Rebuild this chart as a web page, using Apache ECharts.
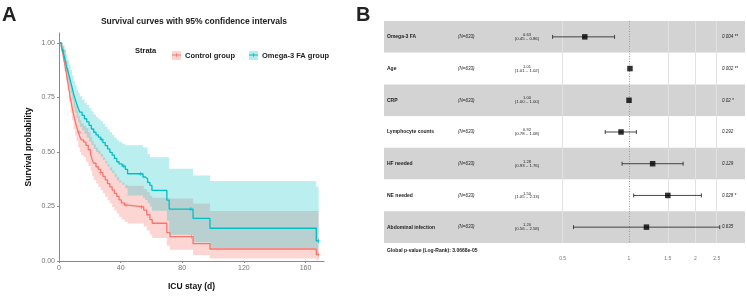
<!DOCTYPE html>
<html>
<head>
<meta charset="utf-8">
<script src="https://cdn.jsdelivr.net/npm/echarts@6/dist/echarts.min.js"></script>
<style>
  html, body { margin: 0; padding: 0; background: #fff; }
  #chart { width: 747px; height: 296px; }
</style>
</head>
<body>
<div id="chart"></div>
<script>
// ---- A: Kaplan-Meier curves ----
const ctrlTime  = [0, 1.5, 2.5, 3.5, 4.5, 5.5, 6.5, 7.5, 8.5, 9.5, 10.5, 11.5, 12.5, 13.5, 14.5, 16, 17.5, 19, 20.5, 21.5, 22.5, 24, 25.5, 27, 28.5, 30, 31.5, 33, 34.5, 36, 37.5, 39, 40.5, 42.5, 44.5, 55, 57, 59, 60.5, 70, 72, 87, 98, 167, 168.5];
const ctrlSurv  = [1, 0.985, 0.95, 0.91, 0.87, 0.83, 0.785, 0.74, 0.705, 0.67, 0.64, 0.615, 0.59, 0.57, 0.555, 0.545, 0.53, 0.51, 0.49, 0.465, 0.448, 0.432, 0.42, 0.405, 0.388, 0.372, 0.355, 0.34, 0.325, 0.31, 0.296, 0.28, 0.266, 0.256, 0.248, 0.233, 0.212, 0.19, 0.173, 0.13, 0.112, 0.08, 0.055, 0.029, 0.029];
const ctrlLower = [1, 0.96, 0.915, 0.87, 0.825, 0.78, 0.73, 0.68, 0.645, 0.605, 0.575, 0.55, 0.52, 0.5, 0.485, 0.475, 0.455, 0.435, 0.415, 0.39, 0.37, 0.355, 0.34, 0.325, 0.31, 0.295, 0.278, 0.263, 0.248, 0.232, 0.218, 0.203, 0.19, 0.18, 0.172, 0.158, 0.14, 0.12, 0.105, 0.07, 0.052, 0.028, 0.012, 0.003, 0.003];
const ctrlUpper = [1, 1, 0.985, 0.955, 0.92, 0.885, 0.845, 0.805, 0.77, 0.74, 0.71, 0.69, 0.665, 0.645, 0.63, 0.62, 0.61, 0.59, 0.57, 0.55, 0.535, 0.52, 0.505, 0.49, 0.475, 0.46, 0.445, 0.43, 0.415, 0.4, 0.385, 0.37, 0.36, 0.35, 0.345, 0.33, 0.315, 0.3, 0.29, 0.29, 0.286, 0.264, 0.229, 0.229, 0.229];

const omegaTime  = [0, 1.5, 2.5, 3.5, 4.5, 5.5, 6.5, 7.5, 8.5, 9.5, 10.5, 11.5, 12.5, 13.5, 15, 16.5, 18, 19.5, 21, 22.5, 24, 25.5, 27, 28.5, 30, 31.5, 33, 34.5, 36, 37.5, 39, 41, 43, 44.5, 54.5, 56, 57.5, 59, 60.3, 70, 71.5, 87, 98, 167, 168.5];
const omegaSurv  = [1, 0.985, 0.962, 0.935, 0.905, 0.875, 0.85, 0.822, 0.795, 0.765, 0.742, 0.72, 0.7, 0.682, 0.667, 0.652, 0.638, 0.622, 0.605, 0.59, 0.578, 0.568, 0.557, 0.543, 0.529, 0.514, 0.498, 0.485, 0.47, 0.455, 0.445, 0.435, 0.42, 0.4, 0.385, 0.377, 0.36, 0.347, 0.324, 0.279, 0.238, 0.195, 0.15, 0.092, 0.092];
const omegaLower = [1, 0.965, 0.935, 0.9, 0.865, 0.83, 0.8, 0.77, 0.74, 0.705, 0.68, 0.655, 0.635, 0.615, 0.598, 0.582, 0.565, 0.548, 0.53, 0.513, 0.5, 0.49, 0.478, 0.463, 0.448, 0.432, 0.415, 0.402, 0.386, 0.37, 0.36, 0.35, 0.333, 0.3, 0.29, 0.28, 0.265, 0.25, 0.23, 0.185, 0.12, 0.086, 0.06, 0.025, 0.025];
const omegaUpper = [1, 1, 0.99, 0.97, 0.945, 0.92, 0.9, 0.875, 0.85, 0.825, 0.805, 0.785, 0.77, 0.755, 0.74, 0.725, 0.715, 0.7, 0.685, 0.672, 0.66, 0.65, 0.64, 0.628, 0.615, 0.603, 0.59, 0.578, 0.565, 0.553, 0.545, 0.537, 0.53, 0.53, 0.52, 0.52, 0.49, 0.476, 0.476, 0.476, 0.423, 0.392, 0.367, 0.34, 0.34];

const ctrlCensor  = [13, 27, 43.5, 53.5, 86, 168.5];
const omegaCensor = [3, 27.5, 42, 53, 85.5, 168.5];

const kmXTicks = [0, 40, 80, 120, 160];
const kmYTicks = [0, 0.25, 0.5, 0.75, 1];

// ---- B: forest plot ----
const forestVars = ['Omega-3 FA', 'Age', 'CRP', 'Lymphocyte counts', 'HF needed', 'NE needed', 'Abdominal infection'];
const forestN    = ['(N=633)', '(N=633)', '(N=633)', '(N=633)', '(N=633)', '(N=633)', '(N=633)'];
const forestHR   = [0.63, 1.01, 1.00, 0.92, 1.28, 1.50, 1.20];
const forestLow  = [0.45, 1.01, 1.00, 0.78, 0.93, 1.05, 0.56];
const forestHigh = [0.86, 1.02, 1.00, 1.08, 1.76, 2.13, 2.58];
const forestP    = ['0.004 **', '0.002 **', '0.02 *', '0.292', '0.129', '0.028 *', '0.635'];
const forestTicks = [0.5, 1, 1.5, 2, 2.5];
const globalP = 'Global p-value (Log-Rank): 3.0668e-05';

const RED = '#F8766D', TEAL = '#00BFC4';
const FONT = '"Liberation Sans", Arial, sans-serif';

const survAt = (time, surv, t) => {
  let s = surv[0];
  for (let i = 0; i < time.length; i++) if (time[i] <= t) s = surv[i];
  return s;
};

// step-shaped confidence ribbon
const ribbon = (name, time, lower, upper, color) => ({
  type: 'custom', name, xAxisIndex: 0, yAxisIndex: 0, silent: true, z: 1,
  data: [[time[0], upper[0]]],
  renderItem: (params, api) => {
    const pts = [];
    const n = time.length;
    for (let i = 0; i < n; i++) {
      const t1 = time[Math.min(i + 1, n - 1)];
      pts.push(api.coord([time[i], upper[i]]), api.coord([t1, upper[i]]));
    }
    for (let i = n - 1; i >= 0; i--) {
      const t1 = time[Math.min(i + 1, n - 1)];
      pts.push(api.coord([t1, lower[i]]), api.coord([time[i], lower[i]]));
    }
    return { type: 'polygon', shape: { points: pts }, style: { fill: color } };
  }
});

const plusPath = 'path://M0,2h5v1h-5z M2,0h1v5h-1z';

const kmLine = (name, time, surv, color) => ({
  type: 'line', name, step: 'end', xAxisIndex: 0, yAxisIndex: 0, z: 3,
  showSymbol: false, symbol: 'none',
  lineStyle: { color, width: 1.3 },
  itemStyle: { color },
  data: time.map((t, i) => [t, surv[i]])
});

const censor = (name, times, time, surv, color) => ({
  type: 'scatter', name, xAxisIndex: 0, yAxisIndex: 0, z: 4,
  symbol: plusPath, symbolSize: 4,
  itemStyle: { color },
  data: times.map(t => [t, survAt(time, surv, t)])
});

const axisGrey = '#8a8a8a';

const option = {
  animation: false,
  textStyle: { fontFamily: FONT },
  grid: [
    { left: 59, top: 33, width: 265, height: 230 },
    { left: 384, top: 21, width: 361, height: 222 }
  ],
  legend: [
    {
      left: 167, top: 46, itemWidth: 9, itemHeight: 9, itemGap: 14, selectedMode: false,
      textStyle: { fontSize: 7.5, fontWeight: 'bold', color: '#222', fontFamily: FONT, padding: [0, 0, 0, -1] },
      data: [
        { name: 'Control group', icon: 'rect', itemStyle: { color: 'rgba(248,118,109,0.3)' } },
        { name: 'Omega-3 FA group', icon: 'rect', itemStyle: { color: 'rgba(0,191,196,0.3)' } }
      ]
    },
    {
      left: 167, top: 46, itemWidth: 9, itemHeight: 4, itemGap: 14, selectedMode: false,
      textStyle: { fontSize: 7.5, fontWeight: 'bold', color: 'rgba(0,0,0,0)', fontFamily: FONT, padding: [0, 0, 0, -1] },
      data: [
        { name: 'Control group', icon: 'path://M0,1.5h10v1h-10z M4.5,0h1v4h-1z', itemStyle: { color: RED } },
        { name: 'Omega-3 FA group', icon: 'path://M0,1.5h10v1h-10z M4.5,0h1v4h-1z', itemStyle: { color: TEAL } }
      ]
    }
  ],
  xAxis: [
    {
      type: 'value', gridIndex: 0, min: 0, max: 172,
      name: 'ICU stay (d)', nameLocation: 'middle', nameGap: 21,
      nameTextStyle: { fontSize: 8.5, fontWeight: 'bold', color: '#111', fontFamily: FONT },
      axisLine: { lineStyle: { color: axisGrey, width: 1 } },
      axisTick: { length: 2, lineStyle: { color: axisGrey }, customValues: kmXTicks },
      axisLabel: { fontSize: 7, color: '#777', margin: 4, customValues: kmXTicks },
      splitLine: { show: false }
    },
    {
      type: 'log', gridIndex: 1, logBase: 10, min: 0.0773, max: 3.36,
      axisLine: { show: false }, axisTick: { show: false },
      axisLabel: { fontSize: 5, color: '#777', margin: 13, customValues: forestTicks },
      splitLine: { show: false }
    }
  ],
  yAxis: [
    {
      type: 'value', gridIndex: 0, min: 0, max: 1.045,
      name: 'Survival probability', nameLocation: 'middle', nameGap: 26,
      nameTextStyle: { fontSize: 8.5, fontWeight: 'bold', color: '#111', fontFamily: FONT },
      axisLine: { show: true, lineStyle: { color: axisGrey, width: 1 } },
      axisTick: { show: true, length: 2, lineStyle: { color: axisGrey }, customValues: kmYTicks },
      axisLabel: { fontSize: 7, color: '#777', margin: 4, customValues: kmYTicks, formatter: v => v.toFixed(2) },
      splitLine: { show: false }
    },
    {
      type: 'category', gridIndex: 1, inverse: true, data: forestVars,
      axisLine: { show: false }, axisTick: { show: false }, axisLabel: { show: false },
      splitArea: { show: true, areaStyle: { color: ['#d3d3d3', '#ffffff'] } },
      splitLine: { show: false }
    }
  ],
  series: [
    ribbon('ctrlBand', ctrlTime, ctrlLower, ctrlUpper, 'rgba(248,118,109,0.3)'),
    ribbon('omegaBand', omegaTime, omegaLower, omegaUpper, 'rgba(0,191,196,0.27)'),
    kmLine('Control group', ctrlTime, ctrlSurv, RED),
    kmLine('Omega-3 FA group', omegaTime, omegaSurv, TEAL),
    censor('Control group', ctrlCensor, ctrlTime, ctrlSurv, RED),
    censor('Omega-3 FA group', omegaCensor, omegaTime, omegaSurv, TEAL),
    {
      type: 'custom', name: 'ci', xAxisIndex: 1, yAxisIndex: 1, silent: true, z: 3,
      encode: { x: [0, 1], y: 2 },
      data: forestVars.map((v, i) => [forestLow[i], forestHigh[i], i]),
      renderItem: (params, api) => {
        const a = api.coord([api.value(0), api.value(2)]);
        const b = api.coord([api.value(1), api.value(2)]);
        const st = { stroke: '#333', lineWidth: 0.9 };
        if (b[0] - a[0] < 1) return { type: 'group', children: [] };
        return {
          type: 'group', children: [
            { type: 'line', shape: { x1: a[0], y1: a[1], x2: b[0], y2: b[1] }, style: st },
            { type: 'line', shape: { x1: a[0], y1: a[1] - 2, x2: a[0], y2: a[1] + 2 }, style: st },
            { type: 'line', shape: { x1: b[0], y1: b[1] - 2, x2: b[0], y2: b[1] + 2 }, style: st }
          ]
        };
      }
    },
    {
      type: 'scatter', name: 'hr', xAxisIndex: 1, yAxisIndex: 1, z: 4, silent: true,
      symbol: 'rect', symbolSize: 5.5, itemStyle: { color: '#000' },
      data: forestHR.map((h, i) => [h, i]),
      markLine: {
        silent: true, symbol: 'none', z: 2, label: { show: false }, animation: false,
        data: [
          ...forestTicks.filter(t => t !== 1).map(t => ({ xAxis: t, lineStyle: { color: '#e2e2e2', type: 'solid', width: 1 } })),
          { xAxis: 1, lineStyle: { color: '#9a9a9a', type: [1, 1.5], width: 1 } }
        ]
      }
    }
  ]
};

const chart = echarts.init(document.getElementById('chart'));
chart.setOption(option);

// free texts: panel letters, titles, forest table columns
const texts = [
  { x: 2, y: 15, text: 'A', font: 'bold 20px ' + FONT, align: 'left' },
  { x: 356, y: 15, text: 'B', font: 'bold 20px ' + FONT, align: 'left' },
  { x: 194, y: 22, text: 'Survival curves with 95% confidence intervals', font: 'bold 8.5px ' + FONT, align: 'center' },
  { x: 135, y: 50.5, text: 'Strata', font: 'bold 7.5px ' + FONT, align: 'left' },
  { x: 387, y: 251, text: globalP, font: 'bold 5px ' + FONT, align: 'left' }
];
forestVars.forEach((v, i) => {
  const y = chart.convertToPixel({ yAxisIndex: 1 }, i);
  texts.push({ x: 387, y: y, text: v, font: 'bold 5px ' + FONT, align: 'left' });
  texts.push({ x: 458, y: y, text: forestN[i], font: 'italic 4.5px ' + FONT, align: 'left' });
  texts.push({ x: 527, y: y - 2, text: forestHR[i].toFixed(2), font: '4px ' + FONT, align: 'center' });
  texts.push({ x: 527, y: y + 1.8, text: '(' + forestLow[i].toFixed(2) + ' \u2013 ' + forestHigh[i].toFixed(2) + ')', font: '4.3px ' + FONT, align: 'center' });
  texts.push({ x: 722, y: y, text: forestP[i], font: 'italic 4.5px ' + FONT, align: 'left' });
});

chart.setOption({
  graphic: texts.map(t => ({
    type: 'text', x: t.x, y: t.y, silent: true, z: 10,
    style: { text: t.text, font: t.font, fill: '#222', textAlign: t.align, textVerticalAlign: 'middle' }
  }))
});
</script>
</body>
</html>
